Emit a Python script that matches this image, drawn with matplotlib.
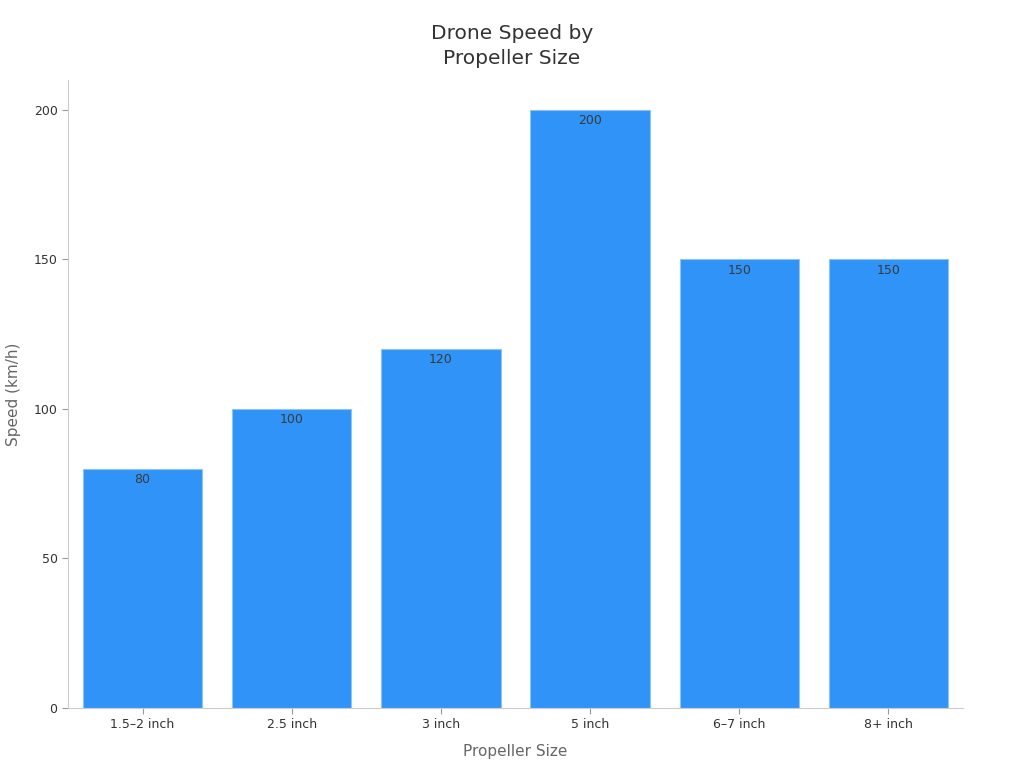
import matplotlib
matplotlib.use("Agg")
import matplotlib.pyplot as plt

categories = ["1.5–2 inch", "2.5 inch", "3 inch", "5 inch", "6–7 inch", "8+ inch"]
speeds = [80, 100, 120, 200, 150, 150]
yticks = [0, 50, 100, 150, 200]

plt.rcParams['font.family'] = ['DejaVu Sans']

fig = plt.figure(figsize=(10.24, 7.68), dpi=100)
ax = fig.add_axes([68/1024, 60/768, (963-68)/1024, (708-80)/768])

x = list(range(len(categories)))
bars = ax.bar(x, speeds, width=0.8, color="#2F93F8", edgecolor="#8FC3F5", linewidth=0.8)

for xi, v in zip(x, speeds):
    ax.annotate(str(v), (xi, v), xytext=(0, -3), textcoords="offset points",
                ha="center", va="top", fontsize=9, color="#3a3a3a")

ax.set_xlim(-0.5, 5.5)
ax.set_ylim(0, 210)
ax.set_xticks(x)
ax.set_xticklabels(categories)
ax.set_yticks(yticks)

for s in ["top", "right"]:
    ax.spines[s].set_visible(False)
for s in ["left", "bottom"]:
    ax.spines[s].set_color("#cccccc")
    ax.spines[s].set_linewidth(0.8)

ax.tick_params(axis="both", colors="#999999", labelcolor="#333333", labelsize=9, length=4, width=0.8)

ax.set_xlabel("Propeller Size", fontsize=11, color="#666666", labelpad=9)
ax.set_ylabel("Speed (km/h)", fontsize=11, color="#666666", labelpad=9)
fig.text(0.5, 1 - 46/768, "Drone Speed by\nPropeller Size", fontsize=14.5, color="#333333",
         ha="center", va="center", linespacing=1.4)

fig.savefig("out.png", dpi=100, facecolor="white")
